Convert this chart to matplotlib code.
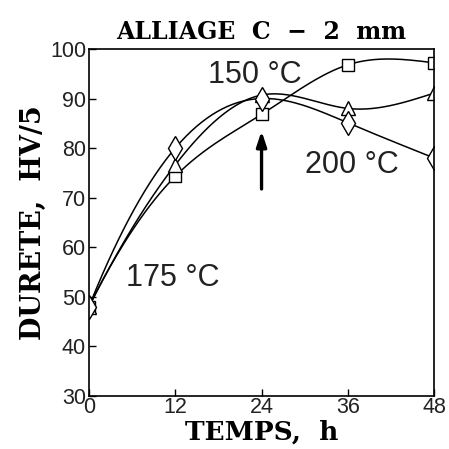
import numpy as np
import matplotlib
matplotlib.use("Agg")
import matplotlib.pyplot as plt

# temps de vieillissement (h) et durete HV/5
temps = [0, 12, 24, 36, 48]
durete_150 = [48.0, 74.3, 86.8, 96.8, 97.2]   # carres
durete_175 = [48.0, 76.6, 90.7, 88.0, 91.1]   # triangles
durete_200 = [48.0, 80.0, 90.0, 85.1, 78.0]   # losanges

xticks = [0, 12, 24, 36, 48]
yticks = [30, 40, 50, 60, 70, 80, 90, 100]


def spline(x, y, n=200):
    # spline cubique (raccord parabolique au debut, naturel a la fin),
    # seulement pour tracer la courbe lissee
    x = np.asarray(x, float)
    y = np.asarray(y, float)
    k = len(x)
    h = np.diff(x)
    A = np.zeros((k, k))
    b = np.zeros(k)
    A[0, 0], A[0, 1] = 1, -1
    A[-1, -1] = 1
    for i in range(1, k - 1):
        A[i, i - 1] = h[i - 1]
        A[i, i] = 2 * (h[i - 1] + h[i])
        A[i, i + 1] = h[i]
        b[i] = 6 * ((y[i + 1] - y[i]) / h[i] - (y[i] - y[i - 1]) / h[i - 1])
    M = np.linalg.solve(A, b)
    xs = np.linspace(x[0], x[-1], n)
    j = np.clip(np.searchsorted(x, xs) - 1, 0, k - 2)
    t0 = xs - x[j]
    t1 = x[j + 1] - xs
    hj = h[j]
    ys = (M[j] * t1**3 + M[j + 1] * t0**3) / (6 * hj) \
        + (y[j] / hj - M[j] * hj / 6) * t1 + (y[j + 1] / hj - M[j + 1] * hj / 6) * t0
    return xs, ys


fig = plt.figure(figsize=(4.49, 4.49), dpi=100)
ax = fig.add_axes([0.198, 0.118, 0.769, 0.773])

for vals, mk, ms in [(durete_150, "s", 9), (durete_175, "^", 10), (durete_200, "d", 12)]:
    xs, ys = spline(temps, vals)
    ax.plot(xs, ys, color="black", lw=1.1)
    ax.plot(temps, vals, linestyle="none", marker=mk, ms=ms, mfc="white",
            mec="black", mew=1.0)

# fleche a 24 h
ax.annotate("", xy=(24, 84.0), xytext=(24, 71.2),
            arrowprops=dict(arrowstyle="-|>,head_length=0.9,head_width=0.3",
                            color="black", lw=2.4))

lab = dict(fontsize=22, family="Liberation Sans", color="#222222")
ax.text(23.1, 94.8, "150 °C", ha="center", va="center", **lab)
ax.text(36.5, 76.6, "200 °C", ha="center", va="center", **lab)
ax.text(11.7, 53.8, "175 °C", ha="center", va="center", **lab)

ax.set_xlim(0, 48)
ax.set_ylim(30, 100)
ax.set_xticks(xticks)
ax.set_yticks(yticks)
ax.tick_params(direction="in", length=5, width=1.0, labelsize=15.5, pad=2,
               labelcolor="#222222")
ax.tick_params(axis="x", pad=1)
for lbl in ax.get_xticklabels() + ax.get_yticklabels():
    lbl.set_family("Liberation Sans")
for s in ax.spines.values():
    s.set_linewidth(1.2)

serif = dict(family="DejaVu Serif", fontweight="bold")
ax.set_title("ALLIAGE  C  \u2212  2  mm", fontsize=17, pad=7, **serif)
ax.set_xlabel("TEMPS,  h", fontsize=19, labelpad=1, **serif)
ax.set_ylabel("DURETE,  HV/5", fontsize=19.5, labelpad=2, **serif)

fig.savefig("out.png", dpi=100)
